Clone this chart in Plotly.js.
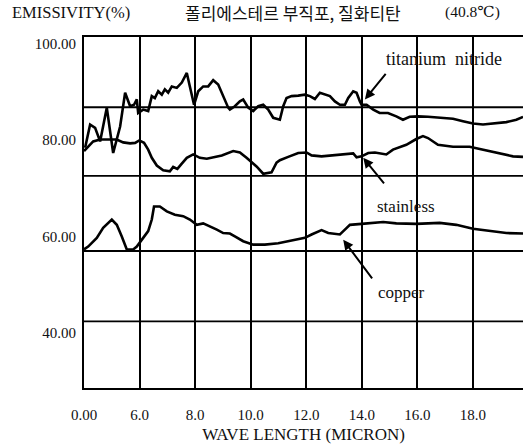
<!DOCTYPE html>
<html><head><meta charset="utf-8">
<script src="https://cdn.plot.ly/plotly-3.0.1.min.js"></script>
<style>html,body{margin:0;padding:0;background:#fff}</style>
</head><body>
<div id="chart" style="width:523px;height:445px"></div>
<script>
const tinX = [4.04,4.22,4.40,4.58,4.82,5.05,5.30,5.48,5.66,5.80,5.90,5.95,6.13,6.31,6.44,6.55,6.67,6.80,6.91,7.03,7.16,7.34,7.52,7.70,7.81,7.96,8.11,8.29,8.47,8.65,8.83,9.01,9.19,9.25,9.43,9.61,9.73,9.91,10.09,10.27,10.45,10.63,10.81,11.05,11.17,11.29,11.47,11.71,11.95,12.13,12.31,12.49,12.67,12.85,13.03,13.21,13.39,13.51,13.69,13.81,13.93,13.99,14.17,14.41,14.64,14.94,15.24,15.48,15.72,16.02,16.38,16.80,17.28,17.64,18.00,18.36,18.72,19.20,19.56,19.80];
const tinY = [78.4,83.2,82.5,79.7,86.7,77.3,82.8,89.8,87.0,87.3,88.4,85.6,86.3,86.0,89.1,88.7,90.1,89.4,90.5,89.8,91.1,90.8,91.9,93.9,91.1,87.3,90.1,91.1,91.1,92.4,91.5,89.1,86.7,86.3,87.0,88.0,88.4,86.7,86.0,87.0,87.3,86.3,84.6,84.2,87.0,88.7,89.1,89.2,89.4,89.1,88.5,89.8,89.4,89.1,88.0,87.3,87.3,88.7,90.1,89.8,88.0,87.3,87.3,86.3,85.6,85.6,84.9,84.2,84.8,84.9,84.8,84.6,84.4,83.9,83.4,83.2,83.4,83.7,84.2,84.8];

const stainX = [4.0,4.33,4.58,4.94,5.18,5.41,5.66,5.84,5.99,6.16,6.31,6.44,6.62,6.85,7.09,7.21,7.36,7.52,7.70,7.93,8.17,8.42,8.65,8.96,9.37,9.61,9.85,10.21,10.45,10.75,10.93,11.05,11.35,11.71,12.01,12.19,12.55,13.03,13.51,13.69,13.81,13.99,14.23,14.47,14.88,15.12,15.60,15.96,16.20,16.38,16.74,17.28,17.88,18.36,18.96,19.44,19.80];
const stainY = [77.7,79.7,80.1,80.1,80.1,79.5,79.3,79.4,79.9,79.4,78.0,76.3,74.7,73.7,73.5,74.4,74.0,75.1,76.3,77.0,76.3,76.1,76.4,76.8,77.7,77.4,76.3,74.5,73.0,73.3,75.3,75.8,76.5,77.3,77.4,76.8,76.6,76.8,77.0,77.2,76.4,76.6,77.3,77.4,77.0,78.0,79.0,80.2,80.8,80.4,79.0,78.6,78.6,78.0,77.3,76.6,76.5];

const copperX = [4.0,4.15,4.46,4.69,5.0,5.18,5.36,5.54,5.77,5.90,6.13,6.31,6.44,6.52,6.73,6.98,7.27,7.57,7.81,8.06,8.29,8.53,8.78,9.01,9.25,9.43,9.73,10.09,10.51,10.99,11.47,11.95,12.19,12.55,12.79,13.21,13.39,13.57,13.99,14.47,14.77,15.24,15.96,16.80,17.40,18.00,18.60,19.20,19.80];
const copperY = [57.3,57.9,59.7,61.8,63.5,62.4,60.0,57.3,57.3,57.9,59.7,61.1,63.5,66.2,66.2,65.2,64.5,64.2,63.5,62.4,62.7,62.1,61.4,60.7,60.6,60.0,59.0,58.3,58.3,58.6,59.1,59.7,60.4,61.3,60.7,60.4,61.4,62.4,62.6,62.8,63.0,62.7,62.6,62.8,62.4,61.6,61.1,60.7,60.6];

const xTickVals = [4,6,8,10,12,14,16,18];
const xTickText = ["0.00","6.0","8.0","10.0","12.0","14.0","16.0","18.0"];
const yTickVals = [40,60,80,100];
const yTickText = ["40.00","60.00","80.00","100.00"];
const yGrid = [42.38,56.98,72.55,86.78];

const serif = "'Liberation Serif', 'DejaVu Serif', 'Noto Serif', serif";
const lineStyle = {color:"#000", width:2.6};

const traces = [
  {x:tinX, y:tinY, mode:"lines", line:lineStyle, name:"titanium nitride", hoverinfo:"skip"},
  {x:stainX, y:stainY, mode:"lines", line:lineStyle, name:"stainless", hoverinfo:"skip"},
  {x:copperX, y:copperY, mode:"lines", line:lineStyle, name:"copper", hoverinfo:"skip"}
];

const shapes = yGrid.map(v => ({type:"line", xref:"paper", yref:"y", x0:0, x1:1, y0:v, y1:v,
  line:{color:"#000", width:1.8}, layer:"below"}));

const annFont = {family:serif, size:17, color:"#111"};
const annotations = [
  {xref:"paper", yref:"paper", x:-0.169, y:1.07, xanchor:"left", yanchor:"middle", showarrow:false,
   text:"EMISSIVITY(%)", font:{family:serif, size:16.5, color:"#111"}},
  {xref:"paper", yref:"paper", x:0.475, y:1.07, xanchor:"center", yanchor:"middle", showarrow:false,
   text:"폴리에스테르 부직포, 질화티탄", font:{family:"'Noto Sans CJK KR'", size:17, color:"#111"}},
  {xref:"paper", yref:"paper", x:0.885, y:1.07, xanchor:"center", yanchor:"middle", showarrow:false,
   text:"(40.8℃)", font:{family:serif, size:15.5, color:"#111"}},
  {x:16.95, y:96.7, text:"titanium  nitride", showarrow:false, font:{family:serif, size:18, color:"#111"}},
  {x:15.60, y:66.2, text:"stainless", showarrow:false, font:annFont},
  {x:15.42, y:48.4, text:"copper", showarrow:false, font:annFont},
  {x:14.11, y:88.4, text:"", showarrow:true, ax:22, ay:-27, arrowhead:2, arrowwidth:2, arrowsize:1, arrowcolor:"#000"},
  {x:14.05, y:76.3, text:"", showarrow:true, ax:22, ay:27, arrowhead:2, arrowwidth:2, arrowsize:1, arrowcolor:"#000"},
  {x:13.33, y:59.3, text:"", showarrow:true, ax:30, ay:40, arrowhead:2, arrowwidth:2, arrowsize:1, arrowcolor:"#000"}
];

const layout = {
  width:523, height:445,
  font:{family:serif, color:"#111"},
  margin:{l:84, r:0, t:37, b:57, pad:0},
  paper_bgcolor:"#fff", plot_bgcolor:"#fff",
  showlegend:false,
  xaxis:{range:[4,19.8], tickvals:xTickVals, ticktext:xTickText, ticks:"",
    showgrid:true, gridcolor:"#000", gridwidth:2, zeroline:false,
    showline:true, linecolor:"#000", linewidth:2, mirror:true,
    ticklabelstandoff:12, tickfont:{family:serif, size:15, color:"#111"},
    title:{text:"WAVE LENGTH (MICRON)", font:{family:serif, size:17, color:"#111"}, standoff:6},
    fixedrange:true},
  yaxis:{range:[28.57,101.35], tickvals:yTickVals, ticktext:yTickText, ticks:"",
    showgrid:false, zeroline:false, showline:true, linecolor:"#000", linewidth:2,
    ticklabelstandoff:3, tickfont:{family:serif, size:15, color:"#111"}, fixedrange:true},
  shapes:shapes,
  annotations:annotations
};

Plotly.newPlot("chart", traces, layout, {displayModeBar:false, staticPlot:true});
</script>
</body></html>
